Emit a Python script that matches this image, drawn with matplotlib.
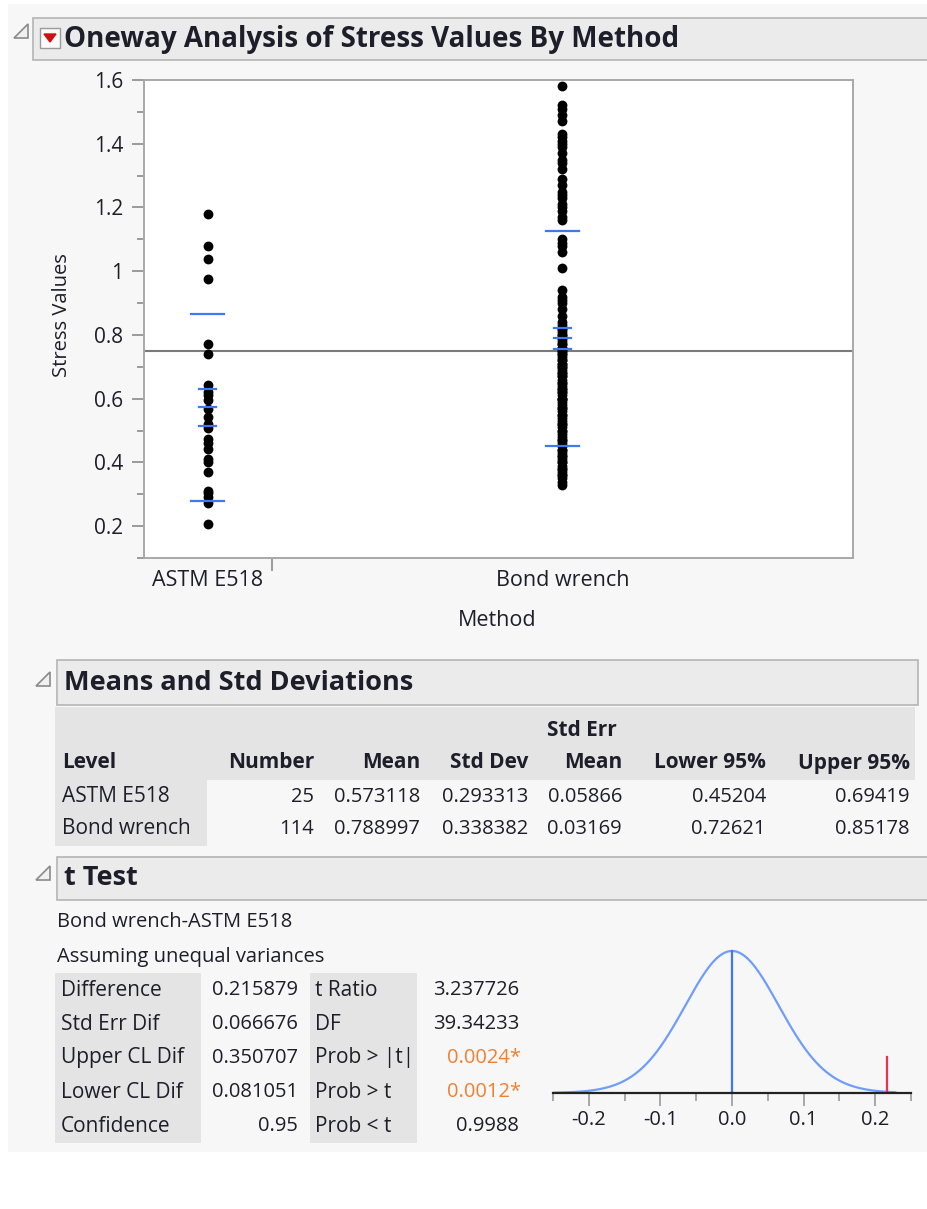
import math
import numpy as np
import matplotlib
matplotlib.use("Agg")
import matplotlib.pyplot as plt
from matplotlib.patches import Rectangle, Polygon

plt.rcParams['font.family'] = ['Open Sans', 'DejaVu Sans']

# ---------------- data ----------------
levels = ["ASTM E518", "Bond wrench"]
counts = [25, 114]
means = [0.573118, 0.788997]
std_devs = [0.293313, 0.338382]
std_errs = [0.05866, 0.03169]
lower95 = [0.45204, 0.72621]
upper95 = [0.69419, 0.85178]

astm_values = [1.178, 1.080, 1.039, 0.977, 0.771, 0.740, 0.642, 0.611, 0.596,
               0.567, 0.542, 0.508, 0.473, 0.442, 0.401, 0.370, 0.303, 0.272,
               0.206, 0.62, 0.52, 0.46, 0.41, 0.31, 0.29]
bond_values = [1.58, 1.51, 1.49, 1.47, 1.43, 1.41, 1.39, 1.37, 1.34, 1.32,
               1.27, 1.25, 1.23, 1.21, 1.19, 1.17, 1.10, 1.08, 1.06, 1.01,
               0.94, 0.92, 0.90, 0.88, 0.86,
               0.84, 0.83, 0.82, 0.81, 0.80, 0.80, 0.79, 0.78, 0.77, 0.77,
               0.76, 0.75, 0.75, 0.74, 0.73, 0.72, 0.72, 0.71, 0.70, 0.70,
               0.69, 0.68, 0.68, 0.67, 0.66, 0.65, 0.65, 0.64, 0.63, 0.62,
               0.62, 0.61, 0.60, 0.60, 0.59, 0.58, 0.57, 0.56, 0.55, 0.54,
               0.53, 0.52, 0.51, 0.50, 0.49, 0.48, 0.47, 0.46, 0.45, 0.44,
               0.43, 0.42, 0.41, 0.40, 0.39, 0.38, 0.37, 0.36, 0.35, 0.33,
               1.52, 1.42, 1.40, 1.35, 1.29, 1.24, 1.20, 1.16, 1.09, 0.91,
               0.82, 0.79, 0.76, 0.74, 0.71, 0.67, 0.63, 0.60, 0.57, 0.55,
               0.52, 0.50, 0.47, 0.44, 0.42, 0.40, 0.38, 0.36, 0.34]
grand_mean = 0.7502

yticks = [0.2, 0.4, 0.6, 0.8, 1.0, 1.2, 1.4, 1.6]
ytick_labels = ["0.2", "0.4", "0.6", "0.8", "1", "1.2", "1.4", "1.6"]

table_cols = ["Level", "Number", "Mean", "Std Dev", "Mean", "Lower 95%", "Upper 95%"]

t_labels1 = ["Difference", "Std Err Dif", "Upper CL Dif", "Lower CL Dif", "Confidence"]
t_values1 = ["0.215879", "0.066676", "0.350707", "0.081051", "0.95"]
t_labels2 = ["t Ratio", "DF", "Prob > |t|", "Prob > t", "Prob < t"]
t_values2 = ["3.237726", "39.34233", "0.0024*", "0.0012*", "0.9988"]
t_sig = [False, False, True, True, False]
difference = 0.215879
se_dif = 0.066676
dfree = 39.34233
dist_ticks = [-0.2, -0.1, 0.0, 0.1, 0.2]

# ---------------- figure ----------------
W, H = 928, 1209
fig = plt.figure(figsize=(W / 100, H / 100), dpi=100, facecolor="white")

TXT = "#1e1e2a"
GRAYFILL = "#e4e4e4"
HDRFILL = "#ebebeb"
HDREDGE = "#b4b4b4"
BLUE = "#3d78f5"
FS = 15


def fx(x):
    return x / W


def fy(y):
    return 1 - y / H


def T(x, y, s, **kw):
    kw.setdefault("color", TXT)
    kw.setdefault("va", "center")
    fig.text(fx(x), fy(y), s, **kw)


def R(x, y, w, h, z=1, **kw):
    fig.add_artist(Rectangle((fx(x), fy(y + h)), w / W, h / H,
                             transform=fig.transFigure, zorder=z, **kw))


def disclosure(x, y, s=14):
    pts = [(fx(x), fy(y + s)), (fx(x + s), fy(y + s)), (fx(x + s), fy(y))]
    fig.add_artist(Polygon(pts, closed=True, transform=fig.transFigure,
                           facecolor="#f0f0f0", edgecolor="#8a8a8a", lw=1.2))


# page background
R(8, 4, 920, 1148, z=-5, facecolor="#f7f7f7", edgecolor="none")

# ---- Oneway header ----
disclosure(14, 24)
R(33, 18, 900, 42, facecolor=HDRFILL, edgecolor=HDREDGE, lw=1.2)
R(40, 28, 20, 20, facecolor="#fafafa", edgecolor="#9a9a9a", lw=1)
fig.add_artist(Polygon([(fx(44), fy(34)), (fx(56), fy(34)), (fx(50), fy(42))],
                       closed=True, transform=fig.transFigure,
                       facecolor="#d01010", edgecolor="#d01010"))
T(64, 39, "Oneway Analysis of Stress Values By Method", fontsize=20,
  fontweight="bold", ha="left")

# ---- main plot ----
ax = fig.add_axes([fx(144), fy(558), (853 - 144) / W, (558 - 80) / H])
ax.set_zorder(5)
ax.set_facecolor("white")
total = sum(counts)
edges = np.concatenate([[0], np.cumsum(counts)])
centers = [(edges[i] + edges[i + 1]) / 2 for i in range(len(counts))]
groups = [astm_values, bond_values]
for i, vals in enumerate(groups):
    ax.scatter([centers[i]] * len(vals), vals, s=50, color="black", zorder=3,
               linewidths=0)
ax.axhline(grand_mean, color="#7a7a7a", lw=1.5, zorder=2)
long_half = 16.5 / 709 * total
short_half = 8.5 / 709 * total
for i in range(len(counts)):
    c = centers[i]
    for v in (means[i] + std_devs[i], means[i] - std_devs[i]):
        ax.plot([c - long_half, c + long_half], [v, v], color=BLUE, lw=1.6, zorder=4)
    for v in (means[i] + std_errs[i], means[i], means[i] - std_errs[i]):
        ax.plot([c - short_half, c + short_half], [v, v], color=BLUE, lw=1.6, zorder=4)
ax.set_xlim(0, total)
ax.set_ylim(0.1, 1.6)
ax.set_yticks(yticks)
ax.set_yticklabels(ytick_labels)
ax.set_yticks(np.arange(0.1, 1.61, 0.1), minor=True)
ax.tick_params(axis="y", which="major", length=9, width=1.2, color="#8a8a8a",
               labelsize=FS, labelcolor=TXT, pad=6)
ax.tick_params(axis="y", which="minor", length=5, width=1.2, color="#8a8a8a")
ax.set_xticks(centers)
ax.set_xticklabels(levels)
ax.set_xticks(edges[1:-1], minor=True)
ax.tick_params(axis="x", which="major", length=0, labelsize=15.5, labelcolor=TXT, pad=9)
ax.tick_params(axis="x", which="minor", length=9, width=1.2, color="#8a8a8a")
for sp in ax.spines.values():
    sp.set_color("#a8a8a8")
    sp.set_linewidth(1.4)
T(62, 315, "Stress Values", fontsize=14.5, rotation=90, ha="center")
T(497, 621, "Method", fontsize=15.5, ha="center")

# ---- Means and Std Deviations ----
disclosure(36, 672)
R(57, 660, 861, 45, facecolor=HDRFILL, edgecolor=HDREDGE, lw=1.2)
T(64, 683, "Means and Std Deviations", fontsize=19.5, fontweight="bold", ha="left")
R(55, 707, 860, 73, facecolor=GRAYFILL, edgecolor="none")
R(55, 780, 152, 66, facecolor=GRAYFILL, edgecolor="none")
col_right = [None, 314, 420, 528, 622, 766, 910]
T(582, 731, "Std Err", fontsize=FS, fontweight="bold", ha="center")
T(62, 763, table_cols[0], fontsize=FS, fontweight="bold", ha="left")
for j in range(1, 7):
    T(col_right[j], 763, table_cols[j], fontsize=FS, fontweight="bold", ha="right")
row_y = [797, 829]
for i in range(2):
    y = row_y[i]
    T(62, y, levels[i], fontsize=FS, ha="left")
    vals = [f"{counts[i]}", f"{means[i]:.6f}", f"{std_devs[i]:.6f}",
            f"{std_errs[i]:.5f}", f"{lower95[i]:.5f}", f"{upper95[i]:.5f}"]
    for j, v in enumerate(vals, start=1):
        T(col_right[j], y, v, fontsize=14.5, ha="right")

# ---- t Test ----
disclosure(36, 866)
R(57, 857, 880, 43, facecolor=HDRFILL, edgecolor=HDREDGE, lw=1.2)
T(64, 878, "t Test", fontsize=19.5, fontweight="bold", ha="left")
T(57, 922, "Bond wrench-ASTM E518", fontsize=14.5, ha="left")
T(57, 957, "Assuming unequal variances", fontsize=14.5, ha="left")
R(55, 973, 146, 170, facecolor=GRAYFILL, edgecolor="none")
R(310, 973, 107, 170, facecolor=GRAYFILL, edgecolor="none")
t_rows = [990, 1024, 1058, 1092, 1126]
for k in range(5):
    y = t_rows[k]
    T(61, y, t_labels1[k], fontsize=FS, ha="left")
    T(298, y, t_values1[k], fontsize=14.5, ha="right")
    T(315, y, t_labels2[k], fontsize=FS, ha="left")
    col = "#f08030" if t_sig[k] else TXT
    T(521 if t_sig[k] else 519, y, t_values2[k], fontsize=14.5, ha="right",
      color=col)

# ---- t distribution plot ----
ax2 = fig.add_axes([fx(553), fy(1093), (911 - 553) / W, (1093 - 935) / H])
ax2.set_zorder(5)
ax2.set_facecolor("none")
xs = np.linspace(-0.25, 0.228, 400)
tt = xs / se_dif
logc = math.lgamma((dfree + 1) / 2) - math.lgamma(dfree / 2) - 0.5 * math.log(dfree * math.pi)
pdf = np.exp(logc) * (1 + tt ** 2 / dfree) ** (-(dfree + 1) / 2)
top = np.exp(logc)
ax2.plot(xs, pdf, color="#6f9dfb", lw=1.6)
ax2.plot([0, 0], [0, top], color=BLUE, lw=1.6)
ax2.plot([difference, difference], [0, 0.254 * top], color="#e8344e", lw=1.6)
ax2.set_xlim(-0.25, 0.25)
ax2.set_ylim(0, top * 158 / 142)
for s in ("top", "right", "left"):
    ax2.spines[s].set_visible(False)
ax2.spines["bottom"].set_color("#222222")
ax2.spines["bottom"].set_linewidth(1.6)
ax2.set_yticks([])
ax2.set_xticks(dist_ticks)
ax2.set_xticklabels([f"{v:.1f}" for v in dist_ticks])
ax2.set_xticks(np.arange(-0.25, 0.251, 0.05), minor=True)
ax2.tick_params(axis="x", which="major", length=9, width=1.2, color="#9a9a9a",
                labelsize=14.5, labelcolor=TXT, pad=3)
ax2.tick_params(axis="x", which="minor", length=6, width=1.2, color="#9a9a9a")

fig.savefig("out.png", dpi=100, facecolor="white")
